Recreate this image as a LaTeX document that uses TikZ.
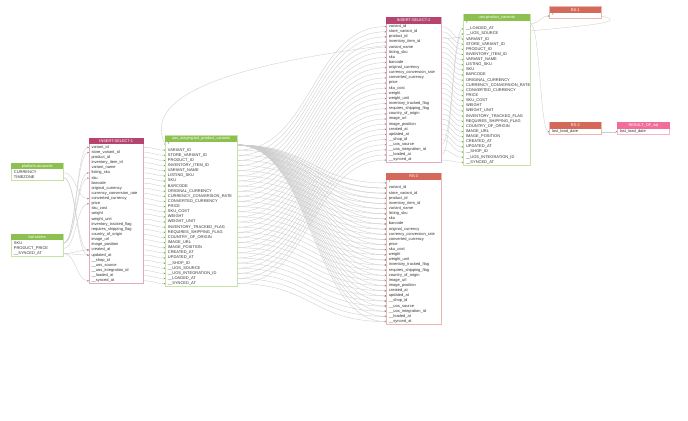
\documentclass[tikz,border=0pt]{standalone}
\usepackage{fontspec}
\setmainfont{Liberation Sans}
\usetikzlibrary{arrows.meta,calc}
\pgfdeclarelayer{bg}
\pgfdeclarelayer{mid}
\pgfsetlayers{bg,mid,main}
\definecolor{hpink}{HTML}{B5456F}
\definecolor{bpink}{HTML}{E3A9BE}
\definecolor{hred}{HTML}{D4695A}
\definecolor{bred}{HTML}{EDB5AC}
\definecolor{hrose}{HTML}{F36D9B}
\definecolor{brose}{HTML}{F6B3CA}
\definecolor{hgreen}{HTML}{8CC152}
\definecolor{bgreen}{HTML}{C7E2A8}
\definecolor{edgec}{HTML}{CDCDCD}
\definecolor{tipc}{HTML}{8A8A8A}
\definecolor{txtc}{HTML}{333333}
\tikzset{
  rowtxt/.style={font=\fontsize{4.0}{4.5}\selectfont, text=txtc, anchor=west,
    inner xsep=2.3pt, inner ysep=0pt, minimum height=5.15pt, align=left},
  ttl/.style={font=\fontsize{3.9}{4.5}\selectfont, text=white, inner sep=0pt},
  edge/.style={draw=edgec, line width=0.35pt, -{Stealth[length=1.8pt,width=1.6pt,color=tipc]}},
}
% name, left, right, header top, title, head colour, border colour, rows
\newcommand\dbtable[8]{%
  \pgfmathsetmacro\tww{#3-#2-4.6}%
  \pgfmathsetmacro\hb{#4+6.4}%
  \foreach \rw [count=\i from 0] in {#8} {
    \pgfmathsetmacro\yy{\hb+3.1+5.15*\i}
    \node[rowtxt, text width=\tww pt] (#1-\i) at (#2,\yy) {\strut\rw};
    \xdef\lasty{\yy}
  }
  \begin{pgfonlayer}{mid}
    \fill[white] (#2,#4) rectangle (#3,\lasty+2.6);
  \end{pgfonlayer}
  \draw[#7, line width=0.5pt] (#2,#4) rectangle (#3,\lasty+2.6);
  \fill[#6] (#2,#4) rectangle (#3,\hb);
  \node[ttl] (#1-t) at ({(#2+#3)/2},{(#4+\hb)/2}) {#5};
}
\newcommand\lnk[3][0.5]{%
  \draw[edge] let \p1=(#2.east), \p2=(#3.west), \n1={#1*(\x2-\x1)} in
    (\p1) .. controls +(\n1,0) and +(-\n1,0) .. (\p2);}
\begin{document}
\begin{tikzpicture}[x=1pt,y=-1pt]
\begin{pgfonlayer}{bg}
\useasboundingbox[fill=white] (0,0) rectangle (688,422);
\end{pgfonlayer}

\dbtable{pa}{11.5}{63.3}{163.6}{platform.accounts}{hgreen}{bgreen}{CURRENCY,TIMEZONE}
\dbtable{bo}{11.5}{63.3}{234.5}{bol.orders}{hgreen}{bgreen}{SKU,PRODUCT\_PRICE,\_\_SYNCED\_AT}
\dbtable{is1}{89.3}{144}{138.3}{INSERT-SELECT-1}{hpink}{bpink}{variant\_id,store\_variant\_id,product\_id,inventory\_item\_id,variant\_name,listing\_sku,sku,barcode,original\_currency,currency\_conversion\_rate,converted\_currency,price,sku\_cost,weight,weight\_unit,inventory\_tracked\_flag,requires\_shipping\_flag,country\_of\_origin,image\_url,image\_position,created\_at,updated\_at,\_\_shop\_id,\_\_uos\_source,\_\_uos\_integration\_id,\_\_loaded\_at,\_\_synced\_at}
\dbtable{st}{166}{237.5}{136}{uos\_staging.bol\_product\_variants}{hgreen}{bgreen}{*,VARIANT\_ID,STORE\_VARIANT\_ID,PRODUCT\_ID,INVENTORY\_ITEM\_ID,VARIANT\_NAME,LISTING\_SKU,SKU,BARCODE,ORIGINAL\_CURRENCY,CURRENCY\_CONVERSION\_RATE,CONVERTED\_CURRENCY,PRICE,SKU\_COST,WEIGHT,WEIGHT\_UNIT,INVENTORY\_TRACKED\_FLAG,REQUIRES\_SHIPPING\_FLAG,COUNTRY\_OF\_ORIGIN,IMAGE\_URL,IMAGE\_POSITION,CREATED\_AT,UPDATED\_AT,\_\_SHOP\_ID,\_\_UOS\_SOURCE,\_\_UOS\_INTEGRATION\_ID,\_\_LOADED\_AT,\_\_SYNCED\_AT}
\dbtable{is2}{387.7}{442.3}{17.2}{INSERT-SELECT-2}{hpink}{bpink}{variant\_id,store\_variant\_id,product\_id,inventory\_item\_id,variant\_name,listing\_sku,sku,barcode,original\_currency,currency\_conversion\_rate,converted\_currency,price,sku\_cost,weight,weight\_unit,inventory\_tracked\_flag,requires\_shipping\_flag,country\_of\_origin,image\_url,image\_position,created\_at,updated\_at,\_\_shop\_id,\_\_uos\_source,\_\_uos\_integration\_id,\_\_loaded\_at,\_\_synced\_at}
\dbtable{uos}{465}{531.7}{14.3}{uos.product\_variants}{hgreen}{bgreen}{*,\_\_LOADED\_AT,\_\_UOS\_SOURCE,VARIANT\_ID,STORE\_VARIANT\_ID,PRODUCT\_ID,INVENTORY\_ITEM\_ID,VARIANT\_NAME,LISTING\_SKU,SKU,BARCODE,ORIGINAL\_CURRENCY,CURRENCY\_CONVERSION\_RATE,CONVERTED\_CURRENCY,PRICE,SKU\_COST,WEIGHT,WEIGHT\_UNIT,INVENTORY\_TRACKED\_FLAG,REQUIRES\_SHIPPING\_FLAG,COUNTRY\_OF\_ORIGIN,IMAGE\_URL,IMAGE\_POSITION,CREATED\_AT,UPDATED\_AT,\_\_SHOP\_ID,\_\_UOS\_INTEGRATION\_ID,\_\_SYNCED\_AT}
\dbtable{rs3}{387.7}{442.3}{174}{RS-3}{hred}{bred}{*,variant\_id,store\_variant\_id,product\_id,inventory\_item\_id,variant\_name,listing\_sku,sku,barcode,original\_currency,currency\_conversion\_rate,converted\_currency,price,sku\_cost,weight,weight\_unit,inventory\_tracked\_flag,requires\_shipping\_flag,country\_of\_origin,image\_url,image\_position,created\_at,updated\_at,\_\_shop\_id,\_\_uos\_source,\_\_uos\_integration\_id,\_\_loaded\_at,\_\_synced\_at}
\dbtable{rs1}{551.3}{603}{6.6}{RS-1}{hred}{bred}{*}
\dbtable{rs2}{551.3}{603}{122.6}{RS-2}{hred}{bred}{last\_load\_date}
\dbtable{ros}{619.3}{671.7}{122.6}{RESULT\_OF\_sql}{hrose}{brose}{last\_load\_date}

\begin{pgfonlayer}{bg}
  % sources into INSERT-SELECT-1
  \foreach \j in {0,1,5,6} {\lnk{bo-0}{is1-\j}}
  \lnk{bo-1}{is1-11}
  \lnk{pa-0}{is1-10}
  \lnk{pa-1}{is1-20}
  \lnk{pa-1}{is1-21}
  \foreach \j in {20,21,26} {\lnk{bo-2}{is1-\j}}
  % INSERT-SELECT-1 into staging
  \foreach \i in {0,...,26} {\pgfmathtruncatemacro\j{\i+1}\lnk{is1-\i}{st-\j}}
  % staging into INSERT-SELECT-2 and RS-3
  \foreach \k in {1,...,27} {\pgfmathtruncatemacro\j{\k-1}\lnk{st-\k}{is2-\j}\lnk{st-\k}{rs3-\k}}
  \foreach \k in {0,...,27} {\lnk{st-0}{rs3-\k}}
  % INSERT-SELECT-2 into uos.product_variants
  \foreach \i/\j in {0/3,1/4,2/5,3/6,4/7,5/8,6/9,7/10,8/11,9/12,10/13,11/14,12/15,13/16,14/17,15/18,16/19,17/20,18/21,19/22,20/23,21/24,22/25,23/2,24/26,25/1,26/27} {\lnk{is2-\i}{uos-\j}}
  % uos.product_variants into RS-1, RS-2
  \lnk{uos-0}{rs1-0}
  \lnk{uos-0}{rs2-0}
  \lnk{rs2-0}{ros-0}
  % RS-1 back into staging
  \draw[edge] (rs1-0.east) .. controls (690,35) and (110,30) .. (st-0.west);
\end{pgfonlayer}
\end{tikzpicture}
\end{document}
